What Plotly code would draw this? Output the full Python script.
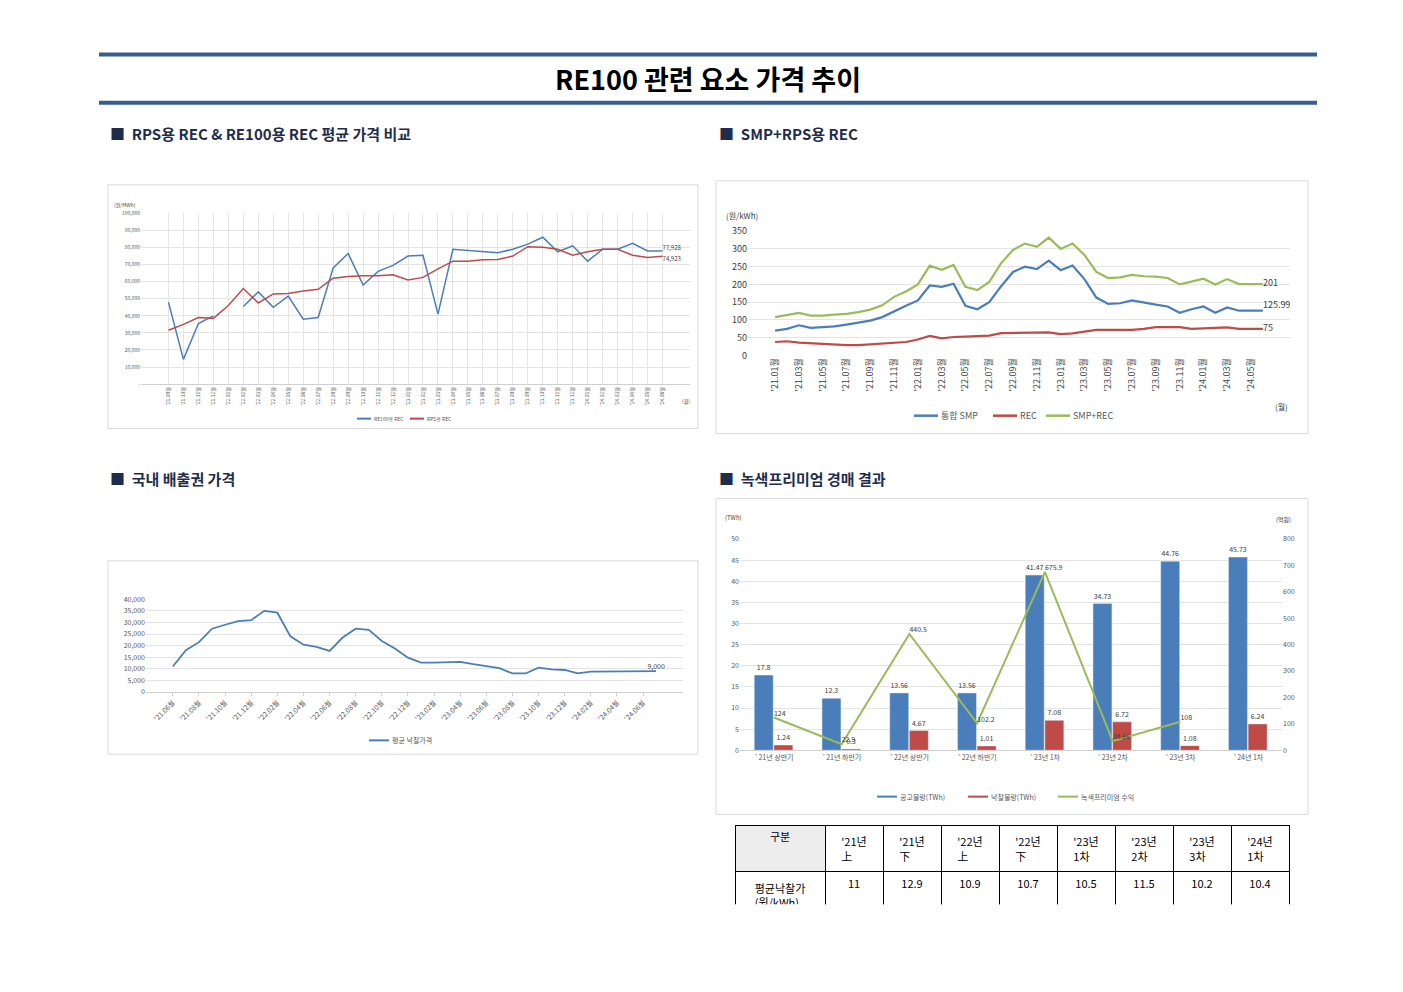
import plotly.graph_objects as go

W, H = 1403, 992
OX, OY = 8, 13
def X(p): return (p - OX) / W
def Y(p): return 1 - (p - OY) / H

FONT = "Noto Sans CJK KR"

# ---------- Data ----------
m1 = ["'21.09월","'21.10월","'21.11월","'21.12월","'22.01월","'22.02월","'22.03월","'22.04월","'22.05월",
      "'22.06월","'22.07월","'22.08월","'22.09월","'22.10월","'22.11월","'22.12월","'23.01월","'23.02월",
      "'23.03월","'23.04월","'23.05월","'23.06월","'23.07월","'23.08월","'23.09월","'23.10월","'23.11월",
      "'23.12월","'24.01월","'24.02월","'24.03월","'24.04월","'24.05월","'24.06월"]
re100_rec = [48000,14500,35500,40000,None,45500,54000,45000,51500,38000,39000,68000,76500,58000,66000,69500,
             75000,75500,41000,79000,78300,77500,77000,79000,82000,86000,77500,81000,72000,79000,79000,82500,
             78000,77928]
rps_rec = [31500,35000,39000,38500,46000,56000,47500,52800,53000,54500,55500,62000,63000,63500,63500,64000,
           61000,62500,67500,72000,72000,72800,73000,75000,80500,80200,79000,75500,77500,79000,79000,75500,
           74200,74923]

m2 = ["'21.01월","'21.02월","'21.03월","'21.04월","'21.05월","'21.06월","'21.07월","'21.08월","'21.09월","'21.10월",
      "'21.11월","'21.12월","'22.01월","'22.02월","'22.03월","'22.04월","'22.05월","'22.06월","'22.07월","'22.08월",
      "'22.09월","'22.10월","'22.11월","'22.12월","'23.01월","'23.02월","'23.03월","'23.04월","'23.05월","'23.06월",
      "'23.07월","'23.08월","'23.09월","'23.10월","'23.11월","'23.12월","'24.01월","'24.02월","'24.03월","'24.04월",
      "'24.05월","'24.06월"]
smp = [70,75,85,78,80,82,87,93,98,108,125,140,155,197,193,202,140,130,150,195,235,250,243,267,240,253,215,163,
       145,147,155,148,143,138,120,130,138,120,135,126,126,125.99]
rec = [38,40,36,34,32,31,29,29,31,33,36,38,45,55,48,52,53,55,56,63,63,63,63,65,60,62,67,72,72,72,72,75,80,80,
       80,75,77,79,79,75,75,75]
smp_rec = [108,115,120,112,112,115,117,122,129,141,165,180,200,253,241,255,193,184,207,260,297,315,306,332,300,
           315,283,235,218,220,227,223,222,218,200,208,216,200,215,201,200,201]

m3 = ["'21.06월","'21.07월","'21.08월","'21.09월","'21.10월","'21.11월","'21.12월","'22.01월","'22.02월","'22.03월",
      "'22.04월","'22.05월","'22.06월","'22.07월","'22.08월","'22.09월","'22.10월","'22.11월","'22.12월","'23.01월",
      "'23.02월","'23.03월","'23.04월","'23.05월","'23.06월","'23.07월","'23.08월","'23.09월","'23.10월","'23.11월",
      "'23.12월","'24.01월","'24.02월","'24.03월","'24.04월","'24.05월","'24.06월","'24.07월"]
kau = [11000,18000,21500,27300,29000,30600,31000,35000,34200,24000,20400,19500,17700,23500,27300,26800,22000,
       18800,14800,12700,12700,12700,13000,12000,11200,10300,8000,8000,10500,9800,9500,8000,8800,8800,8700,8700,
       8700,9000]

rounds = ["`21년 상반기","`21년 하반기","`22년 상반기","`22년 하반기","`23년 1차","`23년 2차","`23년 3차","`24년 1차"]
offered = [17.8,12.3,13.56,13.56,41.47,34.73,44.76,45.73]
awarded = [1.24,0.3,4.67,1.01,7.08,6.72,1.08,6.24]
revenue = [124,22.9,440.5,102.2,675.9,34.66,108,None]

tbl_head = ["구분","'21년<br>上","'21년<br>下","'22년<br>上","'22년<br>下","'23년<br>1차","'23년<br>2차","'23년<br>3차","'24년<br>1차"]
tbl_row_label = "평균낙찰가<br>(원/kWh)"
tbl_vals = ["11","12.9","10.9","10.7","10.5","11.5","10.2","10.4"]

BLUE = "#4A7EBB"; RED = "#BE4B48"; GREEN = "#9BBB59"
fig = go.Figure()

def lbl(arr, txt):
    return [""] * (len(arr) - 1) + [txt]

# ---- chart 1 ----
fig.add_trace(go.Scatter(x=m1, y=re100_rec, name="RE100용 REC", mode="lines+text", line=dict(color=BLUE, width=1.5),
                         text=lbl(m1, "77,928"), textposition="top right", textfont=dict(size=6, color="#404040"),
                         xaxis="x", yaxis="y", connectgaps=False, cliponaxis=False))
fig.add_trace(go.Scatter(x=m1, y=rps_rec, name="RPS용 REC", mode="lines+text", line=dict(color=RED, width=1.5),
                         text=lbl(m1, "74,923"), textposition="bottom right", textfont=dict(size=6, color="#404040"),
                         xaxis="x", yaxis="y", cliponaxis=False))
# ---- chart 2 ----
for nm, arr, c, t in [("통합 SMP", smp, BLUE, "125.99"), ("REC", rec, RED, "75"), ("SMP+REC", smp_rec, GREEN, "201")]:
    fig.add_trace(go.Scatter(x=m2, y=arr, name=nm, mode="lines+text", line=dict(color=c, width=2.2),
                             text=lbl(m2, t), textposition="top right" if t == "125.99" else "middle right",
                             textfont=dict(size=9, color="#404040"), xaxis="x2", yaxis="y2", cliponaxis=False))
# ---- chart 3 ----
fig.add_trace(go.Scatter(x=m3, y=kau, name="평균 낙찰가격", mode="lines+text", line=dict(color=BLUE, width=1.8),
                         text=lbl(m3, "9,000"), textposition="top center", textfont=dict(size=7, color="#404040"),
                         xaxis="x3", yaxis="y3", cliponaxis=False))
# ---- chart 4 ----
fig.add_trace(go.Bar(x=rounds, y=offered, name="공고물량(TWh)", marker_color=BLUE, text=[str(v) for v in offered],
                     textposition="outside", textfont=dict(size=7, color="#404040"), xaxis="x4", yaxis="y4", width=0.28,
                     offset=-0.29, cliponaxis=False))
fig.add_trace(go.Bar(x=rounds, y=awarded, name="낙찰물량(TWh)", marker_color=RED, text=[str(v) for v in awarded],
                     textposition="outside", textfont=dict(size=7, color="#404040"), xaxis="x4", yaxis="y4", width=0.28,
                     offset=0.0, cliponaxis=False))
fig.add_trace(go.Scatter(x=rounds, y=revenue, name="녹색프리미엄 수익", mode="lines+text", line=dict(color=GREEN, width=2),
                         text=[str(v) if v is not None else "" for v in revenue], textposition="top right",
                         textfont=dict(size=7, color="#404040"), xaxis="x4", yaxis="y5", cliponaxis=False))

# ---- table ----
fig.add_trace(go.Table(
    domain=dict(x=[X(735), X(1290)], y=[Y(915), Y(834)]),
    columnwidth=[90] + [58] * 8,
    header=dict(values=tbl_head, fill_color=["#EDEDED"] + ["white"] * 8, line_color="#000000",
                font=dict(family=FONT, size=11, color="black"), height=34, align="center"),
    cells=dict(values=[[tbl_row_label]] + [[v] for v in tbl_vals], fill_color="white", line_color="#000000",
               font=dict(family=FONT, size=11, color="black"), height=34, align="center")))

grid = "#E4E4E4"
lay = dict(
    width=W, height=H, margin=dict(l=0, r=0, t=0, b=0), paper_bgcolor="white", plot_bgcolor="white",
    font=dict(family=FONT), showlegend=False,
    xaxis=dict(domain=[X(141), X(690)], anchor="y", tickangle=-90, tickfont=dict(size=5, color="#595959"),
               showgrid=True, gridcolor=grid, showline=True, linecolor="#D0D0D0", ticks=""),
    yaxis=dict(domain=[Y(387), Y(214)], anchor="x", range=[0, 100000],
               tickfont=dict(size=5, color="#595959"), gridcolor=grid, showgrid=True, zeroline=False,
               tickvals=list(range(0, 100001, 10000)), ticktext=["-"] + [f"{v:,}" for v in range(10000, 100001, 10000)]),
    xaxis2=dict(domain=[X(748), X(1290)], anchor="y2", tickangle=-90, tickfont=dict(size=9, color="#404040"),
                tickvals=m2[::2], showgrid=False, showline=False, ticks=""),
    yaxis2=dict(domain=[Y(358), Y(232)], anchor="x2", range=[0, 350], dtick=50, tickfont=dict(size=9, color="#404040"),
                gridcolor=grid, zeroline=False),
    xaxis3=dict(domain=[X(146), X(683)], anchor="y3", tickangle=-45, tickfont=dict(size=7, color="#595959"),
                tickvals=m3[::2], showgrid=False, showline=True, linecolor="#D0D0D0", ticks="outside",
                ticklen=3, tickcolor="#D0D0D0"),
    yaxis3=dict(domain=[Y(699), Y(605)], anchor="x3", range=[0, 40000], dtick=5000, tickformat=",",
                tickfont=dict(size=7, color="#595959"), gridcolor=grid, zeroline=False),
    xaxis4=dict(domain=[X(740), X(1282)], anchor="y4", tickfont=dict(size=7, color="#595959"), showgrid=False,
                showline=True, linecolor="#D0D0D0", ticks=""),
    yaxis4=dict(domain=[Y(758), Y(544)], anchor="x4", range=[0, 50], dtick=5, tickfont=dict(size=7, color="#595959"),
                gridcolor=grid, zeroline=False),
    yaxis5=dict(overlaying="y4", side="right", anchor="x4", range=[0, 800], dtick=100, showgrid=False,
                tickfont=dict(size=7, color="#595959")),
    barmode="overlay",
)
fig.update_layout(**lay)

shapes = []
for yy in (53, 102):
    shapes.append(dict(type="rect", xref="paper", yref="paper", x0=X(99), x1=X(1317), y0=Y(yy + 2), y1=Y(yy - 2),
                       fillcolor="#335E92", line_width=0))
for (x0, y0, x1, y1) in [(108, 185, 698, 432), (716, 181, 1308, 437), (108, 566, 698, 762), (716, 503, 1308, 823)]:
    shapes.append(dict(type="rect", xref="paper", yref="paper", x0=X(x0), x1=X(x1), y0=Y(y1), y1=Y(y0),
                       line=dict(color="#D9D9D9", width=1), fillcolor="rgba(0,0,0,0)", layer="below"))

def leg(items, y, size, sw):
    out_s, out_a = [], []
    for (x, color, txt) in items:
        out_s.append(dict(type="line", xref="paper", yref="paper", x0=X(x), x1=X(x + sw), y0=Y(y), y1=Y(y),
                          line=dict(color=color, width=2.5 if size > 7 else 2)))
        out_a.append(dict(xref="paper", yref="paper", x=X(x + sw + 1), y=Y(y), text=txt, showarrow=False,
                          xanchor="left", yanchor="middle", font=dict(size=size, color="#595959", family=FONT)))
    return out_s, out_a

anns = []
for items, y, size, sw in [
    ([(357, BLUE, "RE100용 REC"), (410, RED, "RPS용 REC")], 422, 5, 14),
    ([(914, BLUE, "통합 SMP"), (993, RED, "REC"), (1046, GREEN, "SMP+REC")], 419, 9, 24),
    ([(369, BLUE, "평균 낙찰가격")], 748, 7, 20),
    ([(877, BLUE, "공고물량(TWh)"), (968, RED, "낙찰물량(TWh)"), (1058, GREEN, "녹색프리미엄 수익")], 805, 7, 20),
]:
    s, a = leg(items, y, size, sw)
    shapes += s; anns += a

anns.append(dict(xref="paper", yref="paper", x=X(708), y=Y(77), text="<b>RE100 관련 요소 가격 추이</b>", showarrow=False,
                 xanchor="center", yanchor="middle", font=dict(size=27, color="black", family=FONT)))
for (x, y, t) in [(108, 133, "■  RPS용 REC & RE100용 REC 평균 가격 비교"), (717, 133, "■  SMP+RPS용 REC"),
                  (108, 483, "■  국내 배출권 가격"), (717, 483, "■  녹색프리미엄 경매 결과")]:
    anns.append(dict(xref="paper", yref="paper", x=X(x), y=Y(y), text="<b>" + t + "</b>", showarrow=False,
                     xanchor="left", yanchor="middle", font=dict(size=15, color="#1F2D4D", family=FONT)))
for (x, y, t, s, anc) in [(112, 205, "(원/MWh)", 5, "left"), (724, 216, "(원/kWh)", 8, "left"),
                          (1281, 410, "(월)", 8, "center"), (723, 522, "(TWh)", 6, "left"),
                          (1293, 524, "(억원)", 6, "right"), (686, 404, "(월)", 5, "center")]:
    anns.append(dict(xref="paper", yref="paper", x=X(x), y=Y(y), text=t, showarrow=False, xanchor=anc,
                     yanchor="middle", font=dict(size=s, color="#404040", family=FONT)))

fig.update_layout(shapes=shapes, annotations=anns)
fig.write_html("out.html")
